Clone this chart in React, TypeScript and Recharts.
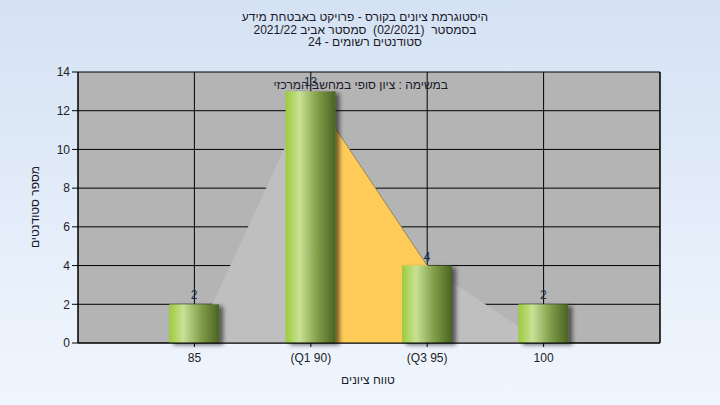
import React from 'react';
import {
  ComposedChart,
  Bar,
  Area,
  XAxis,
  YAxis,
  CartesianGrid,
  LabelList,
} from 'recharts';

// category labels on the x axis
const categories = ['85', '(Q1 90)', '(Q3 95)', '100'];
const positions = [1, 2, 3, 4];
// number of students per grade
const students = [2, 13, 4, 2];
// background distribution shape
const curve = [0, 13, 4, 0];
// inter-quartile band (Q1 - Q3)
const iqr = [null, 13, 4, null];
const yTicks = [0, 2, 4, 6, 8, 10, 12, 14];

const titleLines = [
  'היסטוגרמת ציונים בקורס - פרויקט באבטחת מידע',
  'בסמסטר  (02/2021)  סמסטר אביב 2021/22',
  'סטודנטים רשומים - 24',
];
const subtitle = 'במשימה : ציון סופי במחשב המרכזי';
const xTitle = 'טווח ציונים';
const yTitle = 'מספר סטודנטים';

const FONT = '"Liberation Sans", Arial, sans-serif';

const data = positions.map((x, i) => ({
  x,
  students: students[i],
  curve: curve[i],
  iqr: iqr[i],
}));

const BarShape = (props: any) => {
  const { x, y, width, height } = props;
  if (!height) return null;
  return (
    <rect
      x={x}
      y={y}
      width={width}
      height={height}
      fill="url(#barGrad)"
      filter="url(#barShadow)"
    />
  );
};

const textStyle: React.CSSProperties = {
  position: 'absolute',
  textAlign: 'center',
  fontSize: 12,
  lineHeight: '14px',
  color: '#1a1a2a',
  whiteSpace: 'pre',
};

export default function App() {
  return (
    <div
      style={{
        position: 'absolute',
        left: 0,
        top: 0,
        width: 720,
        height: 405,
        background: 'linear-gradient(to bottom, #d5e2f3, #f0f6fe)',
        fontFamily: FONT,
      }}
    >
      {titleLines.map((line, i) => (
        <div key={i} dir="rtl" style={{ ...textStyle, left: 0, width: 730, top: 10 + i * 12.5 }}>
          {line}
        </div>
      ))}
      <ComposedChart
        width={720}
        height={405}
        data={data}
        margin={{ top: 72, right: 0, bottom: 32, left: 0 }}
        style={{ position: 'absolute', left: 0, top: 0, fontFamily: FONT }}
      >
        <defs>
          <linearGradient id="barGrad" x1="0" y1="0" x2="1" y2="0">
            <stop offset="0%" stopColor="#9ccb3a" />
            <stop offset="28%" stopColor="#c9e196" />
            <stop offset="65%" stopColor="#7f9c48" />
            <stop offset="100%" stopColor="#4a6322" />
          </linearGradient>
          <filter id="barShadow" x="-20%" y="-10%" width="160%" height="130%">
            <feDropShadow dx="4" dy="2" stdDeviation="2" floodColor="#000" floodOpacity="0.55" />
          </filter>
        </defs>
        <CartesianGrid fill="#b4b4b4" stroke="#000" strokeOpacity={1} />
        <XAxis
          type="number"
          dataKey="x"
          domain={[0, 5]}
          ticks={positions}
          tickFormatter={(v: number) => categories[v - 1]}
          height={30}
          stroke="#000"
          tickSize={4}
          tick={{ fill: '#222', fontSize: 12, dy: 4 }}
        />
        <YAxis
          domain={[0, 14]}
          ticks={yTicks}
          width={78}
          stroke="#000"
          tickSize={6}
          tick={{ fill: '#222', fontSize: 12 }}
        />
        <YAxis
          yAxisId="right"
          orientation="right"
          domain={[0, 14]}
          ticks={yTicks}
          width={60}
          stroke="#000"
          tickSize={6}
          tick={{ fill: '#222', fontSize: 12 }}
        />
        <Area
          type="linear"
          dataKey="curve"
          fill="#bfbfbf"
          fillOpacity={1}
          stroke="none"
          isAnimationActive={false}
        />
        <Area
          type="linear"
          dataKey="iqr"
          fill="#ffcc5a"
          fillOpacity={1}
          stroke="#8f8560"
          strokeWidth={1}
          isAnimationActive={false}
        />
        <Bar dataKey="students" barSize={50} shape={<BarShape />} isAnimationActive={false}>
          <LabelList dataKey="students" position="top" offset={5} fill="#1c2c4c" fontSize={12} />
        </Bar>
      </ComposedChart>
      <div dir="rtl" style={{ ...textStyle, left: 290, width: 158, top: 78 }}>
        {subtitle}
      </div>
      <div dir="rtl" style={{ ...textStyle, left: 318, width: 100, top: 373 }}>
        {xTitle}
      </div>
      <div
        dir="rtl"
        style={{
          ...textStyle,
          left: 35 - 50,
          width: 100,
          top: 207 - 7,
          transform: 'rotate(-90deg)',
        }}
      >
        {yTitle}
      </div>
    </div>
  );
}
